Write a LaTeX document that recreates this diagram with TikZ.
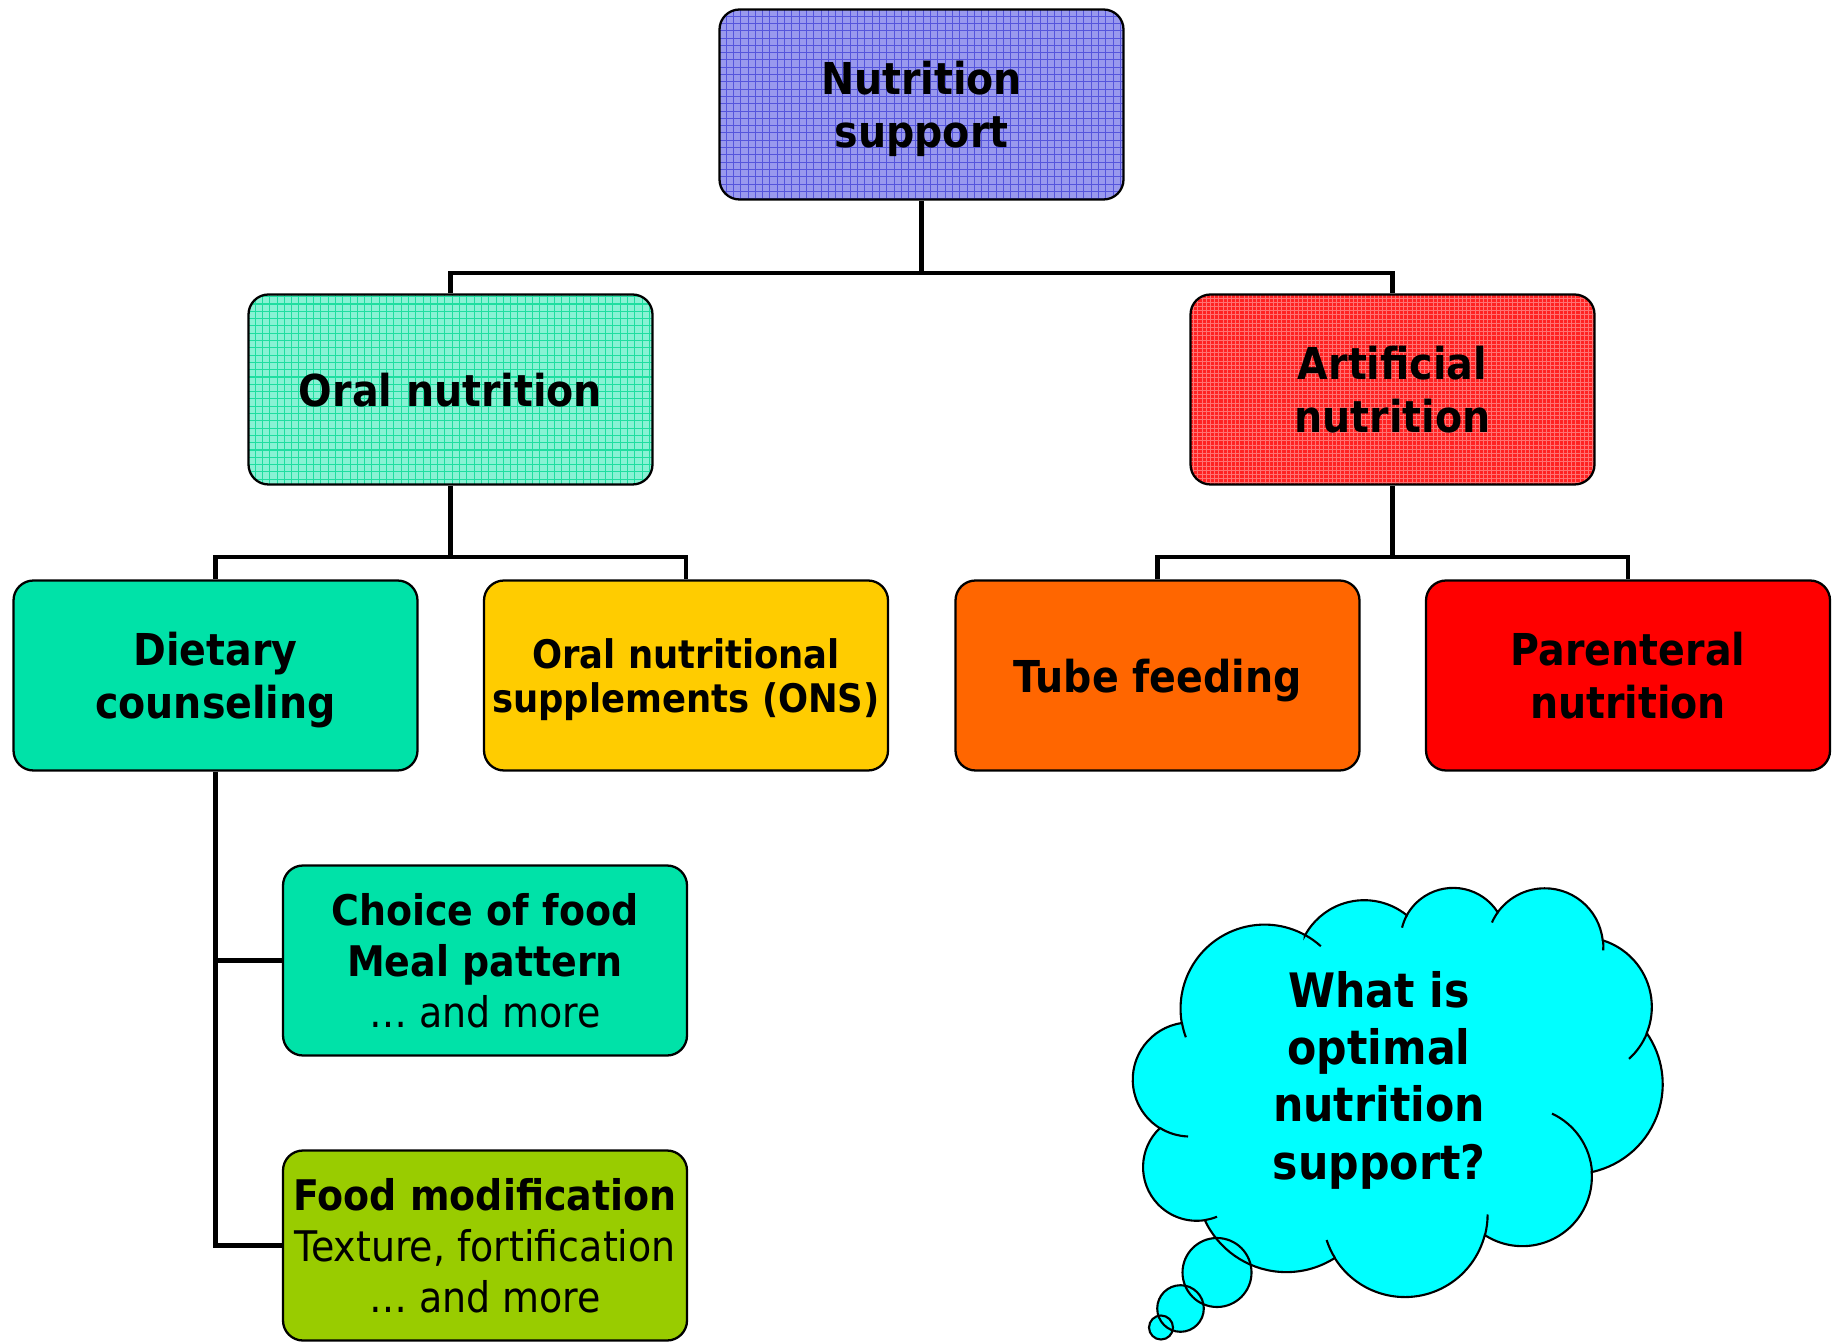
\documentclass[tikz,border=0pt]{standalone}
\usepackage{fontspec}
\setmainfont[FakeStretch=0.9]{DejaVu Sans}

\definecolor{supportblue}{RGB}{153,153,238}
\definecolor{supportgrid}{RGB}{85,85,220}
\definecolor{oralmint}{RGB}{136,242,212}
\definecolor{oralgrid}{RGB}{30,222,160}
\definecolor{artred}{RGB}{255,35,35}
\definecolor{artgrid}{RGB}{255,115,115}
\definecolor{dietgreen}{RGB}{0,226,168}
\definecolor{onsyellow}{RGB}{255,204,0}
\definecolor{tubeorange}{RGB}{255,102,0}
\definecolor{parred}{RGB}{255,0,0}
\definecolor{modgreen}{RGB}{153,204,0}
\definecolor{cloudcyan}{RGB}{0,255,255}

\tikzset{
    blockbox/.style={draw=black, line width=0.65pt, rounded corners=2mm,
        minimum width=40.4mm, minimum height=19mm, inner sep=1pt, align=center,
        text depth=0pt, font=\fontsize{12.5}{15}\selectfont\bfseries},
    gridfill/.style 2 args={path picture={\draw[#1, line width=0.3pt]
        (path picture bounding box.south west) grid[step=#2]
        (path picture bounding box.north east);}},
    link/.style={line width=1.4pt},
    cloudline/.style={line width=0.6pt}
}

\begin{document}
\begin{tikzpicture}[x=0.1mm, y=-0.1mm]
        \useasboundingbox (0,0) rectangle (1832,1342);
        % boxes
        \node[blockbox, fill=supportblue, gridfill={supportgrid}{0.73mm}] (support) at (921.5,104.5) {Nutrition\\support};
        \node[blockbox, fill=oralmint, gridfill={oralgrid}{0.73mm}] (oral) at (450.5,389.5) {Oral nutrition};
        \node[blockbox, fill=artred, gridfill={artgrid}{0.42mm}] (artificial) at (1392.5,389.5) {Artificial\\nutrition};
        \node[blockbox, fill=dietgreen] (dietary) at (215.5,675.5) {Dietary\\counseling};
        \node[blockbox, fill=onsyellow, font=\fontsize{11.2}{12.6}\selectfont\bfseries] (ons) at (686,675.5) {Oral nutritional\\supplements (ONS)};
        \node[blockbox, fill=tubeorange] (tube) at (1157.5,675.5) {Tube feeding};
        \node[blockbox, fill=parred] (parenteral) at (1628,675.5) {Parenteral\\nutrition};
        \node[blockbox, fill=dietgreen, font=\fontsize{12}{14.5}\selectfont] (choice) at (485,960.5) {\textbf{Choice of food}\\\textbf{Meal pattern}\\… and more};
        \node[blockbox, fill=modgreen, font=\fontsize{12}{14.5}\selectfont] (foodmod) at (485,1245.5) {\textbf{Food modification}\\Texture, fortification\\… and more};

        % tree lines
        \coordinate (topsplit) at (921.5,273);
        \coordinate (oralsplit) at (450.5,557);
        \coordinate (artsplit) at (1392.5,557);
        \draw[link] (support.south) -- (topsplit);
        \draw[link] (topsplit) -| (oral.north);
        \draw[link] (topsplit) -| (artificial.north);
        \draw[link] (oral.south) -- (oralsplit);
        \draw[link] (oralsplit) -| (dietary.north);
        \draw[link] (oralsplit) -| (ons.north);
        \draw[link] (artificial.south) -- (artsplit);
        \draw[link] (artsplit) -| (tube.north);
        \draw[link] (artsplit) -| (parenteral.north);
        \draw[link] (dietary.south) |- (choice.west);
        \draw[link] (dietary.south) |- (foodmod.west);

        % thought cloud
        \foreach \cx/\cy/\r in {1217/1272.5/34.5, 1180.5/1308.5/23.3, 1161/1327.5/12}
            \fill[cloudcyan] (\cx,\cy) circle[radius=\r];
        \filldraw[cloudline, fill=cloudcyan] (1305,935)
            arc[start angle=-61.2, end angle=-189.9, radius=84]
            arc[start angle=-98.1, end angle=-238.3, radius=57.1]
            arc[start angle=-133.4, end angle=-278.7, radius=53.65]
            arc[start angle=155, end angle=57.5, radius=90]
            arc[start angle=148.2, end angle=14.4, radius=82.5]
            arc[start angle=122.8, end angle=-3.8, radius=69.5]
            arc[start angle=77.9, end angle=-34.7, radius=89.8]
            arc[start angle=22, end angle=-72.8, radius=69.8]
            arc[start angle=-6.1, end angle=-144, radius=58.2]
            arc[start angle=-32.6, end angle=-151.2, radius=52.9]
            arc[start angle=-50.9, end angle=-151.4, radius=67.5]
            -- cycle;
        \foreach \cx/\cy/\r in {1217/1272.5/34.5, 1180.5/1308.5/23.3, 1161/1327.5/12}
            \draw[cloudline] (\cx,\cy) circle[radius=\r];
        % inner folds of the cloud
        \draw[cloudline] (1320.8,946.2) arc[start angle=-48, end angle=-61.2, radius=84];
        \draw[cloudline] (1182,1023) arc[start angle=170.1, end angle=160, radius=84];
        \draw[cloudline] (1160,1128) arc[start angle=121.7, end angle=92, radius=57.1];
        \draw[cloudline] (1205,1220) arc[start angle=81.3, end angle=68, radius=53.65];
        \draw[cloudline] (1326.6,1240) arc[start angle=162, end angle=148.2, radius=82.5];
        \draw[cloudline] (1485,1235) arc[start angle=14.4, end angle=0, radius=82.5];
        \draw[cloudline] (1592,1172) arc[start angle=-3.8, end angle=-65, radius=69.5];
        \draw[cloudline] (1629,1058.8) arc[start angle=48, end angle=22, radius=69.8];
        \draw[cloudline] (1603.2,950.3) arc[start angle=4, end angle=-6.1, radius=58.2];
        \draw[cloudline] (1498,912) arc[start angle=-144, end angle=-156, radius=58.2];
        \draw[cloudline] (1407,915) arc[start angle=-151.2, end angle=-166, radius=52.9];
        \node[font=\fontsize{13.5}{16.3}\selectfont\bfseries, align=center, inner sep=0pt] (question) at (1379,1080) {What is\\optimal\\nutrition\\support?};
\end{tikzpicture}
\end{document}
